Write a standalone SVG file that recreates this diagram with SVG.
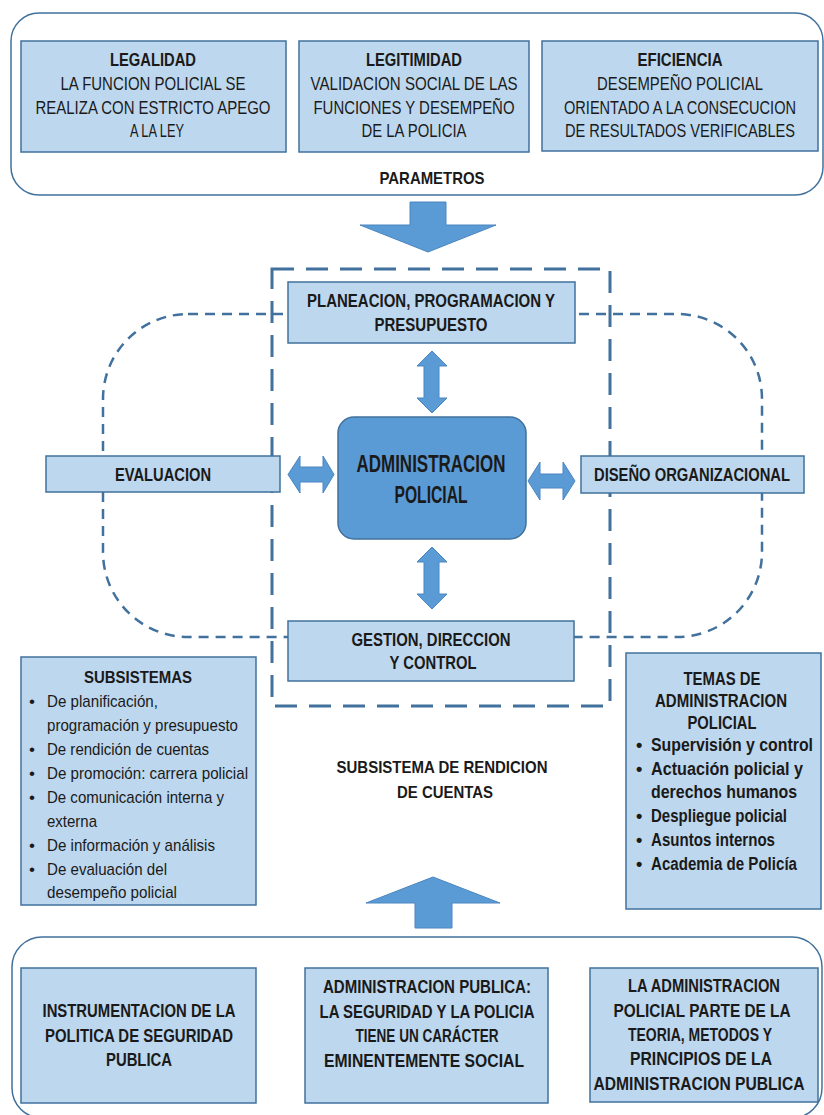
<svg xmlns="http://www.w3.org/2000/svg" width="824" height="1115" viewBox="0 0 824 1115">
<style>
.bg{fill:#ffffff}
.cont{fill:#ffffff;stroke:#41719C;stroke-width:1.5}
.box{fill:#BDD7EE;stroke:#41719C;stroke-width:1.5}
.core{fill:#5B9BD5;stroke:#41719C;stroke-width:1.5}
.arrow{fill:#5B9BD5;stroke:#4A86C0;stroke-width:1}
.loop{fill:none;stroke:#41719C;stroke-width:2.5;stroke-dasharray:10 7}
.frame{fill:none;stroke:#41719C;stroke-width:3;stroke-dasharray:22 12}
text{font-family:"Liberation Sans",Arial,sans-serif;fill:#1a1a1a}
.c{text-anchor:middle}
.b{font-weight:bold}
.s17{font-size:18px}
.s16{font-size:17px}
.s21{font-size:23px}
</style>
<rect class="bg" x="0" y="0" width="824" height="1115"/>

<g id="parametros">
<rect class="cont" x="11" y="13" width="812" height="182" rx="28"/>
<text class="c b s16" x="432" y="184" textLength="105" lengthAdjust="spacingAndGlyphs">PARAMETROS</text>
</g>

<g id="legalidad">
<rect class="box" x="21" y="41" width="265" height="111"/>
<text class="c b s17" x="153" y="66" textLength="86" lengthAdjust="spacingAndGlyphs">LEGALIDAD</text>
<text class="c s17" x="153" y="90" textLength="185" lengthAdjust="spacingAndGlyphs">LA FUNCION POLICIAL SE</text>
<text class="c s17" x="153" y="114" textLength="235" lengthAdjust="spacingAndGlyphs">REALIZA CON ESTRICTO APEGO</text>
<text class="c s17" x="157" y="137" textLength="54" lengthAdjust="spacingAndGlyphs">A LA LEY</text>
</g>

<g id="legitimidad">
<rect class="box" x="299" y="41" width="230" height="111"/>
<text class="c b s17" x="414" y="66" textLength="96" lengthAdjust="spacingAndGlyphs">LEGITIMIDAD</text>
<text class="c s17" x="414" y="90" textLength="207" lengthAdjust="spacingAndGlyphs">VALIDACION SOCIAL DE LAS</text>
<text class="c s17" x="414" y="114" textLength="201" lengthAdjust="spacingAndGlyphs">FUNCIONES Y DESEMPEÑO</text>
<text class="c s17" x="414" y="137" textLength="105" lengthAdjust="spacingAndGlyphs">DE LA POLICIA</text>
</g>

<g id="eficiencia">
<rect class="box" x="542" y="41" width="276" height="110"/>
<text class="c b s17" x="680" y="66" textLength="85" lengthAdjust="spacingAndGlyphs">EFICIENCIA</text>
<text class="c s17" x="680" y="90" textLength="166" lengthAdjust="spacingAndGlyphs">DESEMPEÑO POLICIAL</text>
<text class="c s17" x="680" y="114" textLength="232" lengthAdjust="spacingAndGlyphs">ORIENTADO A LA CONSECUCION</text>
<text class="c s17" x="680" y="137" textLength="230" lengthAdjust="spacingAndGlyphs">DE RESULTADOS VERIFICABLES</text>
</g>

<g id="connectors">
<rect class="loop" x="103" y="314" width="659" height="323" rx="85"/>
<rect class="frame" x="272" y="269" width="338" height="437"/>
<path class="arrow" d="M410,202 L446,202 L446,225 L496,225 L428,252 L360,225 L410,225 Z"/>
<path class="arrow" d="M432,351 L447,366 L439,366 L439,398 L447,398 L432,413 L417,398 L424,398 L424,366 L417,366 Z"/>
<path class="arrow" d="M432,547 L447,562 L439,562 L439,594 L447,594 L432,609 L417,594 L424,594 L424,562 L417,562 Z"/>
<path class="arrow" d="M288,474.5 L300,456 L300,467 L323,467 L323,456 L334,474.5 L323,493 L323,482 L300,482 L300,493 Z"/>
<path class="arrow" d="M528,481 L540,462 L540,474 L563,474 L563,462 L575,481 L563,500 L563,488 L540,488 L540,500 Z"/>
<path class="arrow" d="M433,877 L500,903 L452,903 L452,928 L415,928 L415,903 L366,903 Z"/>
<path class="arrow" d="M267,1003 L280,1003 L280,979 L296,1024 L280,1068 L280,1045 L267,1045 Z"/>
<path class="arrow" d="M553,1007 L570,1007 L570,983 L584,1027 L570,1072 L570,1046 L553,1046 Z"/>
</g>

<g id="planeacion">
<rect class="box" x="288" y="282" width="287" height="61"/>
<text class="c b s17" x="431" y="307" textLength="248" lengthAdjust="spacingAndGlyphs">PLANEACION, PROGRAMACION Y</text>
<text class="c b s17" x="431" y="331" textLength="113" lengthAdjust="spacingAndGlyphs">PRESUPUESTO</text>
</g>

<g id="administracion">
<rect class="core" x="338" y="417" width="188" height="122" rx="16"/>
<text class="c b s21" x="431" y="472" textLength="149" lengthAdjust="spacingAndGlyphs">ADMINISTRACION</text>
<text class="c b s21" x="431" y="503" textLength="73" lengthAdjust="spacingAndGlyphs">POLICIAL</text>
</g>

<g id="evaluacion">
<rect class="box" x="46" y="456" width="234" height="36"/>
<text class="c b s17" x="163" y="481" textLength="96" lengthAdjust="spacingAndGlyphs">EVALUACION</text>
</g>

<g id="diseno">
<rect class="box" x="581" y="456" width="223" height="37"/>
<text class="c b s17" x="692" y="481" textLength="196" lengthAdjust="spacingAndGlyphs">DISEÑO ORGANIZACIONAL</text>
</g>

<g id="gestion">
<rect class="box" x="288" y="621" width="286" height="60"/>
<text class="c b s17" x="431" y="646" textLength="159" lengthAdjust="spacingAndGlyphs">GESTION, DIRECCION</text>
<text class="c b s17" x="433" y="669" textLength="87" lengthAdjust="spacingAndGlyphs">Y CONTROL</text>
</g>

<g id="subsistemas">
<rect class="box" x="21" y="657" width="235" height="248"/>
<text class="c b s16" x="138" y="683" textLength="108" lengthAdjust="spacingAndGlyphs">SUBSISTEMAS</text>
<g class="s16">
<text x="29" y="707">•</text><text x="47" y="707" textLength="111" lengthAdjust="spacingAndGlyphs">De planificación,</text>
<text x="47" y="731" textLength="191" lengthAdjust="spacingAndGlyphs">programación y presupuesto</text>
<text x="29" y="755">•</text><text x="47" y="755" textLength="162" lengthAdjust="spacingAndGlyphs">De rendición de cuentas</text>
<text x="29" y="779">•</text><text x="47" y="779" textLength="201" lengthAdjust="spacingAndGlyphs">De promoción: carrera policial</text>
<text x="29" y="803">•</text><text x="47" y="803" textLength="177" lengthAdjust="spacingAndGlyphs">De comunicación interna y</text>
<text x="47" y="827" textLength="50" lengthAdjust="spacingAndGlyphs">externa</text>
<text x="29" y="851">•</text><text x="47" y="851" textLength="168" lengthAdjust="spacingAndGlyphs">De información y análisis</text>
<text x="29" y="875">•</text><text x="47" y="875" textLength="120" lengthAdjust="spacingAndGlyphs">De evaluación del</text>
<text x="47" y="898" textLength="130" lengthAdjust="spacingAndGlyphs">desempeño policial</text>
</g>
</g>

<g id="temas">
<rect class="box" x="626" y="653" width="195" height="256"/>
<text class="c b s17" x="722" y="685" textLength="77" lengthAdjust="spacingAndGlyphs">TEMAS DE</text>
<text class="c b s17" x="721" y="707" textLength="132" lengthAdjust="spacingAndGlyphs">ADMINISTRACION</text>
<text class="c b s17" x="722" y="729" textLength="69" lengthAdjust="spacingAndGlyphs">POLICIAL</text>
<g class="b s17">
<text x="636" y="751">•</text><text x="651" y="751" textLength="162" lengthAdjust="spacingAndGlyphs">Supervisión y control</text>
<text x="636" y="775">•</text><text x="651" y="775" textLength="152" lengthAdjust="spacingAndGlyphs">Actuación policial y</text>
<text x="651" y="798" textLength="146" lengthAdjust="spacingAndGlyphs">derechos humanos</text>
<text x="636" y="822">•</text><text x="651" y="822" textLength="136" lengthAdjust="spacingAndGlyphs">Despliegue policial</text>
<text x="636" y="846">•</text><text x="651" y="846" textLength="124" lengthAdjust="spacingAndGlyphs">Asuntos internos</text>
<text x="636" y="870">•</text><text x="651" y="870" textLength="146" lengthAdjust="spacingAndGlyphs">Academia de Policía</text>
</g>
</g>

<g id="rendicion">
<text class="c b s16" x="442" y="773" textLength="211" lengthAdjust="spacingAndGlyphs">SUBSISTEMA DE RENDICION</text>
<text class="c b s16" x="445" y="798" textLength="96" lengthAdjust="spacingAndGlyphs">DE CUENTAS</text>
</g>

<g id="fundamentos">
<rect class="cont" x="12" y="937" width="810" height="181" rx="30"/>
</g>

<g id="instrumentacion">
<rect class="box" x="21" y="968" width="235" height="135"/>
<text class="c b s17" x="139" y="1017" textLength="193" lengthAdjust="spacingAndGlyphs">INSTRUMENTACION DE LA</text>
<text class="c b s17" x="139" y="1042" textLength="188" lengthAdjust="spacingAndGlyphs">POLITICA DE SEGURIDAD</text>
<text class="c b s17" x="139" y="1066" textLength="66" lengthAdjust="spacingAndGlyphs">PUBLICA</text>
</g>

<g id="admin-publica">
<rect class="box" x="305" y="968" width="243" height="135"/>
<text class="c b s17" x="427" y="993" textLength="208" lengthAdjust="spacingAndGlyphs">ADMINISTRACION PUBLICA:</text>
<text class="c b s17" x="427" y="1018" textLength="215" lengthAdjust="spacingAndGlyphs">LA SEGURIDAD Y LA POLICIA</text>
<text class="c b s17" x="427" y="1042" textLength="143" lengthAdjust="spacingAndGlyphs">TIENE UN CARÁCTER</text>
<text class="c b s17" x="424" y="1067" textLength="200" lengthAdjust="spacingAndGlyphs">EMINENTEMENTE SOCIAL</text>
</g>

<g id="admin-policial-parte">
<rect class="box" x="590" y="968" width="228" height="134"/>
<text class="c b s17" x="704" y="992" textLength="152" lengthAdjust="spacingAndGlyphs">LA ADMINISTRACION</text>
<text class="c b s17" x="702" y="1017" textLength="177" lengthAdjust="spacingAndGlyphs">POLICIAL PARTE DE LA</text>
<text class="c b s17" x="700" y="1041" textLength="144" lengthAdjust="spacingAndGlyphs">TEORIA, METODOS Y</text>
<text class="c b s17" x="701" y="1065" textLength="142" lengthAdjust="spacingAndGlyphs">PRINCIPIOS DE LA</text>
<text class="c b s17" x="699" y="1090" textLength="211" lengthAdjust="spacingAndGlyphs">ADMINISTRACION PUBLICA</text>
</g>
</svg>
